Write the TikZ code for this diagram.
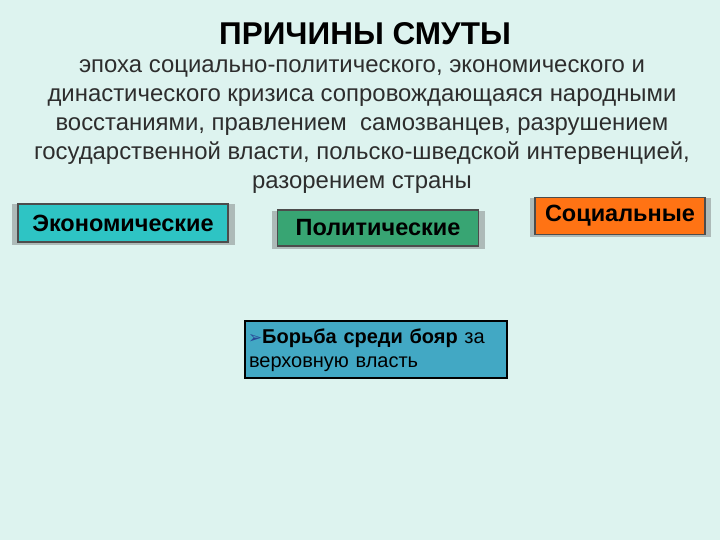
\documentclass[tikz,border=0pt]{standalone}
\usepackage{fontspec}
\setmainfont{Liberation Sans}
\newfontfamily\dingfont{DejaVu Sans}
\usetikzlibrary{shadows}
\definecolor{bgcol}{RGB}{221,243,239}
\definecolor{textgray}{RGB}{45,45,45}
\definecolor{econfill}{RGB}{46,196,196}
\definecolor{politfill}{RGB}{56,165,115}
\definecolor{socialfill}{RGB}{255,115,20}
\definecolor{boyarfill}{RGB}{66,168,196}
\definecolor{bulletblue}{RGB}{40,70,150}
\begin{document}
\begin{tikzpicture}[x=1pt,y=1pt,
	every node/.style={inner sep=0pt},
	causebox/.style={draw=black!70,line width=1.2pt,
		font=\bfseries\fontsize{23.5}{26}\selectfont,
		general shadow={fill=black!60,opacity=0.4,shadow scale=1.06,shadow xshift=0.5pt,shadow yshift=-1.5pt}}]
	\fill[bgcol] (0,0) rectangle (720,540);
	\useasboundingbox (0,0) rectangle (720,540);
	\node[font=\fontsize{31.5}{36}\selectfont\bfseries] (title) at (365,506) {ПРИЧИНЫ СМУТЫ};
	\node[text=textgray,align=center,anchor=north,font=\fontsize{23.9}{29.1}\selectfont] (intro) at (362,481) {
		эпоха социально-политического, экономического и\\
		династического кризиса сопровождающаяся народными\\
		восстаниями, правлением\ \ самозванцев, разрушением\\
		государственной власти, польско-шведской интервенцией,\\
		разорением страны};
	\node[causebox,fill=econfill,minimum width=210pt,minimum height=38pt] (econ) at (123,317) {Экономические};
	\node[causebox,fill=politfill,minimum width=201pt,minimum height=36pt] (polit) at (378,312) {Политические};
	\node[causebox,fill=socialfill,minimum width=170pt,minimum height=37pt] (social) at (620,324) {Социальные};
	\node[draw=black,line width=2pt,fill=boyarfill,minimum width=262pt,minimum height=57pt,
		align=left,text width=254pt,font=\fontsize{20}{24.5}\selectfont] (boyars) at (376,190) {%
		\hspace*{-1pt}{\dingfont\fontsize{17}{17}\selectfont\color{bulletblue}➢}\textbf{Борьба среди бояр} за\\
		верховную власть};
\end{tikzpicture}
\end{document}
